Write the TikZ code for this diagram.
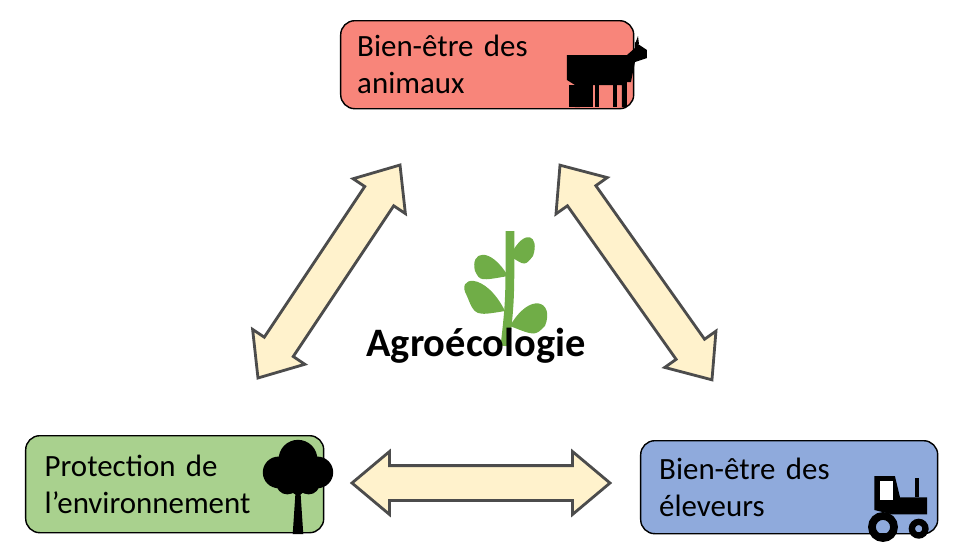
\documentclass[tikz,border=0pt]{standalone}
\usepackage{fontspec}
\setmainfont{Carlito}
\usetikzlibrary{positioning, shapes.arrows}

\definecolor{boxred}{HTML}{F8857A}
\definecolor{boxgreen}{HTML}{A9D18E}
\definecolor{boxblue}{HTML}{8FAADC}
\definecolor{cream}{HTML}{FFF2CC}
\definecolor{leaf}{HTML}{70AD47}

\tikzset{
  box/.style={draw=black, rounded corners=4pt, align=left, text width=2.6cm, inner sep=4pt, font=\fontsize{8.8}{10.5}\selectfont},
  link/.style={shape=double arrow, draw=black!70, fill=cream, thick, inner xsep=0pt, inner ysep=0.16cm, double arrow head extend=0.14cm, double arrow tip angle=80}
}

\begin{document}
\begin{tikzpicture}

\useasboundingbox (0, 0) rectangle (9.57, 5.56);

% Boxes
\node[box, fill=boxred, minimum width=2.93cm, minimum height=0.88cm, anchor=north west] (animals) at (3.40, 5.36) {Bien-être des\\animaux};
\node[box, fill=boxgreen, minimum width=2.98cm, minimum height=0.97cm, anchor=north west] (env) at (0.25, 1.21) {Protection de\\l’environnement};
\node[box, fill=boxblue, minimum width=2.97cm, minimum height=0.93cm, anchor=north west] (farmers) at (6.40, 1.16) {Bien-être des\\éleveurs};

% Arrows
\node[link, minimum height=2.56cm, rotate=56.3] (la) at (3.29, 2.845) {};
\node[link, minimum height=2.63cm, rotate=-54.7] (ra) at (6.36, 2.835) {};
\node[link, minimum height=2.58cm] (ba) at (4.81, 0.73) {};

% Plant
\begin{scope}[shift={(5.05, 2.55)}]
\draw[leaf, line width=2.5pt] (0, -0.45) .. controls (0.05, 0) .. (0.05, 0.7);
\fill[leaf] (0, -0.1) .. controls (-0.2, 0.3) and (-0.5, 0.25) .. (-0.38, 0.05) .. controls (-0.3, -0.15) .. (0, -0.1);
\fill[leaf] (0.03, 0.25) .. controls (-0.15, 0.55) and (-0.35, 0.5) .. (-0.3, 0.3) .. controls (-0.25, 0.2) .. (0.03, 0.25);
\fill[leaf] (0.05, -0.25) .. controls (0.25, 0.1) and (0.5, 0) .. (0.4, -0.25) .. controls (0.3, -0.35) .. (0.05, -0.25);
\fill[leaf] (0.05, 0.45) .. controls (0.2, 0.75) and (0.35, 0.65) .. (0.28, 0.45) .. controls (0.2, 0.35) .. (0.05, 0.45);
\end{scope}
\node[font=\bfseries\fontsize{11.5}{14}\selectfont] (agro) at (4.76, 2.1) {Agroécologie};

% Cow
\begin{scope}[shift={(6.05, 4.76)}]
\fill (-0.38, 0.25) -- (0.22, 0.25) -- (0.3, 0.32) -- (0.3, 0.38) -- (0.42, 0.3) -- (0.42, 0.22) -- (0.3, 0.18) -- (0.26, -0.02) -- (0.22, -0.02) -- (0.22, -0.27) -- (0.17, -0.27) -- (0.17, -0.05) -- (-0.2, -0.05) -- (-0.25, -0.27) -- (-0.3, -0.27) -- (-0.3, -0.05) -- (-0.38, 0) -- cycle;
\fill (-0.1, -0.05) rectangle (-0.06, -0.27);
\fill (0.08, -0.05) rectangle (0.12, -0.27);
\fill (-0.12, -0.05) rectangle (-0.36, -0.27);
\fill (0.3, 0.36) -- (0.33, 0.44) -- (0.34, 0.36) -- cycle;
\end{scope}

% Tree
\begin{scope}[shift={(2.98, 0.66)}, scale=0.88]
\fill (-0.06, -0.5) -- (-0.03, -0.05) -- (-0.2, 0.05) -- (-0.17, 0.1) -- (0, 0.02) -- (0.15, 0.12) -- (0.18, 0.06) -- (0.03, -0.05) -- (0.06, -0.5) -- cycle;
\fill (0, 0.35) circle (0.22) (-0.22, 0.2) circle (0.18) (0.22, 0.2) circle (0.18) (-0.12, 0.08) circle (0.13) (0.12, 0.08) circle (0.13);
\end{scope}

% Tractor
\begin{scope}[shift={(9.0, 0.46)}, scale=0.85]
\fill (-0.3, 0) -- (-0.3, 0.4) -- (-0.06, 0.4) -- (0, 0.15) -- (0.32, 0.15) -- (0.32, -0.05) -- (-0.1, -0.05) -- cycle;
\fill[white] (-0.24, 0.12) rectangle (-0.08, 0.34);
\draw[line width=2.2pt] (-0.2, -0.2) circle (0.13);
\draw[line width=1.8pt] (0.22, -0.22) circle (0.08);
\fill (0.18, 0.15) rectangle (0.22, 0.38);
\end{scope}

\end{tikzpicture}
\end{document}
